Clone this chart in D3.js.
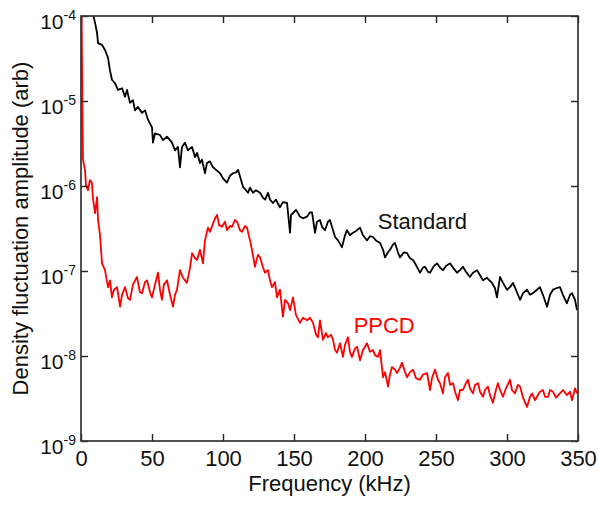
<!DOCTYPE html>
<html><head><meta charset="utf-8">
<script src="https://cdn.jsdelivr.net/npm/d3@7/dist/d3.min.js"></script>
<style>body{margin:0;background:#fff}text{font-family:"Liberation Sans",Arial,Helvetica,sans-serif}</style>
</head><body>
<svg id="chart" width="598" height="506"></svg>
<script>
// ---- data ----
const xTickValues = [0, 50, 100, 150, 200, 250, 300, 350];
const yTickExponents = [-4, -5, -6, -7, -8, -9];
const xTitle = "Frequency (kHz)";
const yTitle = "Density fluctuation amplitude (arb)";
const seriesNames = ["Standard", "PPCD"];

// Standard: frequency (kHz) and log10(amplitude)
const standardFreq = [8.5,9.9,11.3,12.0,14.8,16.9,19.0,20.4,21.8,23.9,26.1,28.9,31.0,32.4,34.5,36.6,38.0,40.1,43.0,45.1,47.2,50.0,50.7,52.1,55.6,57.7,60.6,64.1,66.2,68.3,69.7,71.1,73.2,75.3,78.2,80.3,81.7,83.8,85.2,87.3,88.7,90.8,93.0,95.1,97.9,100.0,102.8,104.9,107.0,109.2,110.6,112.7,114.1,116.2,117.6,119.0,121.1,123.2,126.1,128.2,129.6,131.7,133.1,135.2,137.3,140.1,142.2,145.1,147.2,147.9,149.3,151.4,154.2,156.3,159.2,161.3,162.7,164.8,166.2,168.3,169.7,171.8,173.9,175.3,177.5,178.9,181.0,183.8,185.9,187.3,189.4,191.5,193.7,196.5,198.6,201.4,203.5,205.6,207.7,210.6,212.7,214.1,216.2,217.6,219.7,221.1,223.2,224.6,227.5,229.6,231.7,233.8,235.9,238.7,240.8,242.2,244.4,245.8,248.6,250.7,252.8,254.9,257.0,259.9,262.0,264.8,266.9,269.0,271.1,273.9,276.0,278.9,281.0,283.1,285.9,289.4,291.5,292.9,295.1,297.2,300.0,302.1,304.2,307.0,309.2,311.3,314.1,316.2,318.3,321.1,323.2,325.3,328.2,330.3,332.4,335.2,337.3,339.4,342.2,344.4,345.8,347.9,349.3];
const standardLog10 = [-3.98,-4.08,-4.20,-4.32,-4.34,-4.40,-4.49,-4.64,-4.75,-4.79,-4.87,-4.85,-4.95,-4.87,-5.02,-4.99,-5.11,-5.07,-5.14,-5.11,-5.22,-5.31,-5.49,-5.38,-5.40,-5.46,-5.42,-5.49,-5.58,-5.54,-5.78,-5.54,-5.49,-5.58,-5.54,-5.66,-5.61,-5.73,-5.69,-5.85,-5.73,-5.71,-5.78,-5.81,-5.85,-5.91,-5.96,-5.88,-5.85,-5.84,-5.81,-5.93,-6.01,-6.05,-6.08,-6.02,-6.08,-6.05,-6.08,-6.14,-6.16,-6.08,-6.16,-6.20,-6.16,-6.25,-6.19,-6.20,-6.55,-6.34,-6.32,-6.28,-6.36,-6.38,-6.36,-6.31,-6.31,-6.55,-6.42,-6.40,-6.48,-6.52,-6.42,-6.40,-6.52,-6.60,-6.64,-6.72,-6.58,-6.52,-6.58,-6.55,-6.53,-6.49,-6.58,-6.64,-6.59,-6.60,-6.64,-6.67,-6.75,-6.84,-6.78,-6.75,-6.69,-6.67,-6.78,-6.84,-6.78,-6.79,-6.85,-6.87,-6.93,-7.02,-6.96,-6.95,-7.01,-7.02,-6.94,-6.91,-6.96,-6.99,-6.94,-6.91,-6.96,-7.02,-6.99,-6.95,-7.01,-7.07,-7.02,-6.99,-7.05,-7.11,-7.08,-7.14,-7.20,-7.31,-7.07,-7.14,-7.22,-7.19,-7.14,-7.25,-7.34,-7.26,-7.22,-7.28,-7.26,-7.22,-7.19,-7.28,-7.42,-7.28,-7.22,-7.20,-7.19,-7.28,-7.38,-7.28,-7.26,-7.34,-7.46];

// PPCD: frequency (kHz) and log10(amplitude)
const ppcdFreq = [0.4,0.7,1.1,1.4,2.8,3.5,4.9,6.3,7.7,8.5,9.9,11.3,12.0,13.4,14.8,16.9,19.0,20.4,21.8,23.2,25.4,27.5,28.9,31.0,33.1,34.5,36.6,39.4,41.5,43.0,45.1,46.5,48.6,50.0,52.1,54.2,55.6,57.0,58.4,60.6,62.7,64.8,66.2,67.6,69.7,71.8,74.6,76.8,78.2,80.3,81.7,83.8,85.9,87.3,89.4,90.8,93.0,94.4,95.8,97.2,99.3,101.4,102.8,104.9,106.3,108.4,109.9,112.0,113.4,115.5,116.9,119.0,120.4,122.5,124.6,126.1,128.2,129.6,131.7,133.1,134.5,136.6,138.0,140.1,142.2,143.7,145.8,147.2,149.3,151.4,154.2,156.3,159.2,161.3,163.4,165.5,166.9,168.3,170.4,172.5,173.9,176.1,177.5,178.9,180.3,182.4,184.5,185.9,188.0,189.4,190.8,193.0,194.4,196.5,198.6,201.4,203.5,205.6,207.0,209.2,210.6,212.7,214.1,216.2,217.6,219.0,221.1,222.5,224.6,226.0,228.2,229.6,231.7,233.8,235.9,238.7,240.8,243.7,245.8,247.2,249.3,251.4,252.8,254.9,256.3,258.4,259.9,262.0,263.4,265.5,266.9,269.0,271.1,272.5,273.9,276.0,277.5,279.6,281.0,283.1,284.5,286.6,288.0,290.1,292.2,293.6,295.1,297.2,299.3,302.1,303.5,305.6,307.7,309.2,311.3,314.1,316.2,317.6,319.7,321.1,323.2,325.3,326.8,328.9,330.3,332.4,334.5,337.3,339.4,342.2,344.4,345.8,347.9,349.3];
const ppcdLog10 = [-3.95,-4.52,-5.22,-5.69,-5.81,-5.99,-6.05,-5.93,-5.96,-6.16,-6.32,-6.13,-6.40,-6.58,-6.91,-6.99,-7.19,-7.11,-7.31,-7.22,-7.19,-7.42,-7.28,-7.19,-7.32,-7.34,-7.16,-7.07,-7.25,-7.26,-7.13,-7.11,-7.25,-7.31,-7.16,-7.02,-7.22,-7.34,-7.16,-7.11,-7.28,-7.42,-7.28,-7.22,-6.99,-7.08,-7.14,-6.96,-6.79,-6.85,-6.87,-6.75,-6.91,-6.64,-6.49,-6.54,-6.44,-6.38,-6.34,-6.46,-6.48,-6.42,-6.52,-6.47,-6.48,-6.40,-6.42,-6.52,-6.54,-6.47,-6.49,-6.64,-6.75,-6.95,-6.81,-6.84,-6.96,-7.02,-6.99,-7.11,-7.19,-7.13,-7.31,-7.22,-7.54,-7.34,-7.38,-7.46,-7.31,-7.52,-7.61,-7.55,-7.58,-7.55,-7.61,-7.75,-7.78,-7.58,-7.81,-7.73,-7.78,-7.75,-7.81,-7.93,-7.96,-7.85,-8.01,-7.87,-7.78,-7.95,-8.01,-7.91,-7.89,-8.05,-7.93,-7.85,-7.95,-7.93,-7.99,-8.01,-7.93,-8.25,-8.19,-8.36,-8.22,-8.13,-8.16,-8.20,-8.14,-8.08,-8.19,-8.25,-8.19,-8.16,-8.26,-8.28,-8.22,-8.20,-8.40,-8.26,-8.16,-8.28,-8.32,-8.44,-8.25,-8.20,-8.34,-8.32,-8.42,-8.52,-8.40,-8.40,-8.32,-8.28,-8.38,-8.44,-8.34,-8.32,-8.42,-8.48,-8.40,-8.36,-8.46,-8.55,-8.40,-8.32,-8.40,-8.48,-8.38,-8.28,-8.40,-8.44,-8.34,-8.36,-8.49,-8.60,-8.48,-8.44,-8.52,-8.48,-8.42,-8.40,-8.48,-8.48,-8.40,-8.42,-8.49,-8.44,-8.40,-8.46,-8.42,-8.52,-8.38,-8.44];

// ---- drawing ----
const L = 81, R = 578, T = 16, B = 441;
const svg = d3.select("#chart");
const x = d3.scaleLinear().domain([0, 350]).range([L, R]);
const y = d3.scaleLog().domain([1e-9, 1e-4]).range([B, T]);
const decades = yTickExponents.map(e => Math.pow(10, e));

svg.append("defs").append("clipPath").attr("id", "clip")
  .append("rect").attr("x", L).attr("y", T).attr("width", R - L).attr("height", B - T);

const line = d3.line().x(d => x(d[0])).y(d => y(d[1]));
const stdData = standardFreq.map((f, i) => [f, Math.pow(10, standardLog10[i])]);
const ppcdData = ppcdFreq.map((f, i) => [f, Math.pow(10, ppcdLog10[i])]);

const g = svg.append("g").attr("clip-path", "url(#clip)");
g.append("path").datum(stdData).attr("d", line)
  .attr("fill", "none").attr("stroke", "#000").attr("stroke-width", 1.8).attr("stroke-linejoin", "round");
g.append("path").datum(ppcdData).attr("d", line)
  .attr("fill", "none").attr("stroke", "#ff0000").attr("stroke-width", 1.8).attr("stroke-linejoin", "round");

// axes (ticks pointing inward on all sides)
function styleAxis(sel) {
  sel.select(".domain").remove();
  sel.selectAll(".tick line").attr("stroke", "#222").attr("stroke-width", 1.4);
}
svg.append("g").attr("transform", `translate(0,${B})`)
  .call(d3.axisBottom(x).tickValues(xTickValues).tickSizeInner(-7).tickSizeOuter(0).tickPadding(9.5).tickFormat(d3.format("d")))
  .call(styleAxis)
  .call(s => s.selectAll(".tick text").attr("font-size", 22).attr("fill", "#111").attr("font-family", '"Liberation Sans",Arial,sans-serif'));
svg.append("g").attr("transform", `translate(0,${T})`)
  .call(d3.axisTop(x).tickValues(xTickValues).tickSizeInner(-7).tickSizeOuter(0).tickFormat(""))
  .call(styleAxis);
svg.append("g").attr("transform", `translate(${R},0)`)
  .call(d3.axisRight(y).tickValues(decades).tickSizeInner(-7).tickSizeOuter(0).tickFormat(""))
  .call(styleAxis);
const leftAx = svg.append("g").attr("transform", `translate(${L},0)`)
  .call(d3.axisLeft(y).tickValues(decades).tickSizeInner(-7).tickSizeOuter(0).tickFormat(""))
  .call(styleAxis);
leftAx.selectAll(".tick").each(function (d) {
  const e = Math.round(Math.log10(d));
  const t = d3.select(this).append("text").attr("x", -5).attr("y", 12)
    .attr("text-anchor", "end").attr("fill", "#111").attr("font-size", 21);
  t.append("tspan").text("10");
  t.append("tspan").attr("font-size", 14).attr("dy", -9).text(String(e));
});

// frame
svg.append("rect").attr("x", L).attr("y", T).attr("width", R - L).attr("height", B - T)
  .attr("fill", "none").attr("stroke", "#333").attr("stroke-width", 1.7);

// titles
svg.append("text").attr("x", (L + R) / 2).attr("y", 491).attr("text-anchor", "middle")
  .attr("font-size", 22).attr("fill", "#111").text(xTitle);
svg.append("text").attr("transform", `translate(28,${(T + B) / 2}) rotate(-90)`).attr("text-anchor", "middle")
  .attr("font-size", 22).attr("fill", "#111").text(yTitle);

// series labels
svg.append("text").attr("x", x(209)).attr("y", 229).attr("font-size", 22).attr("fill", "#111").text(seriesNames[0]);
svg.append("text").attr("x", x(192)).attr("y", 333).attr("font-size", 22).attr("fill", "#ff0000").text(seriesNames[1]);
</script>
</body></html>
